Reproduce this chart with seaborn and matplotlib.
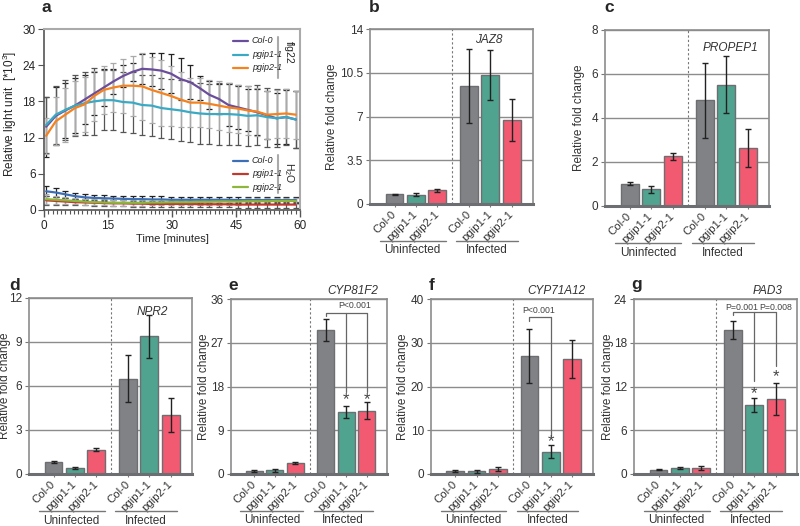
import matplotlib.pyplot as plt
import numpy as np
import pandas as pd
import seaborn as sns
from matplotlib.ticker import FuncFormatter, MultipleLocator

sns.set_style("white")
plt.rcParams["font.family"] = ["Liberation Sans", "DejaVu Sans"]
plt.rcParams["mathtext.fontset"] = "custom"
plt.rcParams["mathtext.rm"] = "Liberation Sans"

# ---- panel a: luminescence after flg22 / water ----
time_min = [0.5, 2.75, 5, 7.25, 9.5, 11.75, 14, 16.25, 18.5, 20.75, 23, 25.25, 27.5,
            29.75, 32, 34.25, 36.5, 38.75, 41, 43.25, 45.5, 47.75, 50, 52.25, 54.5, 56.75, 59]
flg_col0 = [13.8, 15.6, 16.5, 17.3, 18.3, 19.3, 20.3, 21.3, 22.2, 22.9, 23.4, 23.3, 23.1, 22.6,
            21.7, 21.2, 20.2, 19.1, 18.4, 17.4, 17.0, 16.6, 16.2, 15.7, 15.2, 15.4, 15.0]
flg_pgip1 = [14.1, 15.8, 16.6, 17.3, 17.7, 18.0, 18.2, 18.2, 17.9, 17.8, 17.4, 17.3, 16.9, 16.7,
             16.5, 16.2, 16.0, 15.9, 15.9, 15.9, 15.8, 15.6, 15.7, 15.4, 15.2, 15.4, 15.0]
flg_pgip2 = [12.3, 14.7, 15.8, 16.9, 17.5, 18.9, 19.9, 20.3, 20.6, 20.6, 20.5, 19.9, 19.4, 18.9,
             18.3, 17.8, 17.8, 17.6, 17.3, 17.0, 16.8, 16.5, 16.3, 15.8, 15.9, 16.0, 15.8]
flg_col0_sd = [5.0, 4.8, 4.5, 4.5, 4.0, 3.5, 3.0, 2.0, 1.8, 1.5, 2.5, 2.8, 3.0, 3.2,
               3.5, 2.8, 2.0, 2.3, 2.5, 3.5, 3.5, 3.5, 3.8, 4.0, 4.2, 4.5, 4.8]
flg_pgip1_sd = [4.7, 4.8, 5.0, 5.0, 5.2, 5.5, 5.0, 5.0, 5.0, 5.0, 5.0, 5.0, 5.0, 5.0,
                5.0, 5.0, 5.0, 5.0, 5.2, 5.1, 5.0, 5.0, 5.0, 4.9, 4.8, 4.7, 4.8]
flg_pgip2_sd = [3.0, 4.0, 4.5, 4.5, 4.5, 4.2, 4.0, 4.0, 4.5, 5.0, 5.5, 5.5, 5.5, 5.0,
                4.5, 4.0, 4.0, 4.0, 4.0, 4.0, 4.0, 4.0, 4.0, 4.0, 4.0, 4.0, 4.0]
h2o_col0 = [3.1, 2.9, 2.6, 2.3, 2.1, 2.0, 1.95, 1.9, 1.85, 1.8, 1.8, 1.75, 1.75, 1.7,
            1.7, 1.7, 1.7, 1.7, 1.7, 1.7, 1.65, 1.65, 1.65, 1.65, 1.65, 1.65, 1.65]
h2o_pgip1 = [1.6, 1.5, 1.4, 1.3, 1.25, 1.2, 1.15, 1.1, 1.1, 1.05, 1.05, 1.0, 1.0, 1.0,
             1.0, 1.0, 0.95, 0.95, 0.95, 0.95, 0.9, 0.9, 0.9, 0.9, 0.9, 0.9, 0.9]
h2o_pgip2 = [1.8, 1.7, 1.6, 1.5, 1.4, 1.3, 1.25, 1.2, 1.2, 1.2, 1.2, 1.25, 1.25, 1.3,
             1.3, 1.3, 1.35, 1.35, 1.4, 1.4, 1.4, 1.45, 1.45, 1.45, 1.5, 1.5, 1.5]
h2o_sd = [0.8, 0.7, 0.6, 0.5, 0.5, 0.5, 0.5, 0.5, 0.5, 0.5, 0.5, 0.5, 0.5, 0.5,
          0.5, 0.5, 0.5, 0.5, 0.5, 0.5, 0.5, 0.5, 0.5, 0.5, 0.5, 0.5, 0.5]

# ---- panels b-g: qPCR ----
genotypes = ["Col-0", "pgip1-1", "pgip2-1"]
conditions = ["Uninfected", "Infected"]
# order: uninfected Col-0, pgip1-1, pgip2-1, infected Col-0, pgip1-1, pgip2-1
fold_change = {
    "JAZ8": [0.77, 0.75, 1.12, 9.47, 10.32, 6.72],
    "PROPEP1": [1.02, 0.76, 2.26, 4.81, 5.51, 2.63],
    "NPR2": [0.80, 0.41, 1.66, 6.51, 9.38, 4.01],
    "CYP81F2": [0.62, 0.75, 2.26, 29.56, 12.76, 13.03],
    "CYP71A12": [0.69, 0.61, 1.14, 26.97, 5.10, 26.30],
    "PAD3": [0.60, 0.82, 0.82, 19.80, 9.42, 10.33],
}
fold_err = {
    "JAZ8": [0.06, 0.10, 0.12, 2.95, 2.00, 1.70],
    "PROPEP1": [0.05, 0.15, 0.17, 1.70, 1.30, 0.85],
    "NPR2": [0.07, 0.10, 0.12, 1.60, 1.45, 1.15],
    "CYP81F2": [0.15, 0.30, 0.30, 2.25, 1.20, 1.80],
    "CYP71A12": [0.15, 0.35, 0.40, 6.20, 1.45, 4.30],
    "PAD3": [0.10, 0.20, 0.30, 1.25, 0.95, 2.20],
}
y_max = {"JAZ8": 14, "PROPEP1": 8, "NPR2": 12, "CYP81F2": 36, "CYP71A12": 40, "PAD3": 24}
y_step = {"JAZ8": 3.5, "PROPEP1": 2, "NPR2": 3, "CYP81F2": 9, "CYP71A12": 10, "PAD3": 6}

bar_colors = {"Col-0": "#818285", "pgip1-1": "#4fa38f", "pgip2-1": "#f15a71"}
line_colors = {"flg22 Col-0": "#6b4e9b", "flg22 pgip1-1": "#3aa9c3", "flg22 pgip2-1": "#f5821f",
               "H2O Col-0": "#3d6fb6", "H2O pgip1-1": "#c0392f", "H2O pgip2-1": "#8cb63c"}
err_colors = {"flg22 Col-0": "#222222", "flg22 pgip1-1": "#555555", "flg22 pgip2-1": "#aaaaaa",
              "H2O Col-0": "#222222", "H2O pgip1-1": "#555555", "H2O pgip2-1": "#aaaaaa"}

fig = plt.figure(figsize=(8, 5.26), dpi=100)


def px_axes(l, t, r, b):
    return fig.add_axes([l / 800, 1 - b / 526, (r - l) / 800, (b - t) / 526])


# ---------------- panel a ----------------
ax = px_axes(44, 29, 300, 210)
series = {"flg22 Col-0": (flg_col0, flg_col0_sd), "flg22 pgip1-1": (flg_pgip1, flg_pgip1_sd),
          "flg22 pgip2-1": (flg_pgip2, flg_pgip2_sd), "H2O Col-0": (h2o_col0, h2o_sd),
          "H2O pgip1-1": (h2o_pgip1, h2o_sd), "H2O pgip2-1": (h2o_pgip2, h2o_sd)}
rows = []
for name, (vals, sd) in series.items():
    for t, v, s in zip(time_min, vals, sd):
        rows.append({"time": t, "rlu": v, "sd": s, "line": name})
ros = pd.DataFrame(rows)
for name, sub in ros.groupby("line", sort=False):
    ax.errorbar(sub["time"], sub["rlu"], yerr=sub["sd"], fmt="none", ecolor=err_colors[name],
                elinewidth=0.9, capsize=2, capthick=0.9, zorder=1)
sns.lineplot(data=ros, x="time", y="rlu", hue="line", palette=line_colors, lw=1.6,
             legend=False, errorbar=None, ax=ax, zorder=3)
ax.set_xlim(0, 60)
ax.set_ylim(0, 30)
ax.set_xticks(range(0, 61, 15))
ax.set_yticks(range(0, 31, 6))
ax.xaxis.set_minor_locator(MultipleLocator(1))
ax.tick_params(axis="x", which="major", length=5, width=1, color="#555", direction="out",
               labelsize=8.5, bottom=True, pad=2)
ax.tick_params(axis="x", which="minor", length=3, width=0.8, color="#555", direction="out", bottom=True)
ax.tick_params(axis="y", length=4, color="#555", direction="out", labelsize=8.5, left=True, pad=2)
ax.set_xlabel("Time [minutes]", fontsize=8, labelpad=2)
ax.set_ylabel("Relative light unit  [*10$^3$]", fontsize=8.5)
ax.yaxis.set_label_coords(-0.098, 0.53)
for side in ["left", "bottom"]:
    ax.spines[side].set_color("#555555")
    ax.spines[side].set_linewidth(1.2)
for side in ["top", "right"]:
    ax.spines[side].set_color("#aaaaaa")
    ax.spines[side].set_linewidth(1.5)

# hand-made legends
for block, ys, tag, tag_y, bar_y in [
        ("flg22", [0.934, 0.859, 0.785], "flg22", 0.873, (0.729, 0.956)),
        ("H2O", [0.271, 0.199, 0.127], "H$_2$O", 0.204, (0.094, 0.304))]:
    for g, yy in zip(genotypes, ys):
        ax.plot([0.738, 0.797], [yy, yy], color=line_colors[f"{block} {g}"], lw=1.6,
                transform=ax.transAxes)
        ax.text(0.812, yy, g, style="italic", fontsize=6.5, va="center", transform=ax.transAxes)
    ax.plot([0.916, 0.916], bar_y, color="#aaaaaa", lw=1.5, transform=ax.transAxes)
    ax.text(0.955, tag_y, tag, rotation=270, fontsize=7.5, ha="center", va="center",
            transform=ax.transAxes)


# ---------------- bar panels ----------------
def bar_panel(ax, gene, gene_xy, label_x):
    df = pd.DataFrame({
        "genotype": genotypes * 2,
        "condition": [c for c in conditions for _ in genotypes],
        "value": fold_change[gene],
        "err": fold_err[gene],
    })
    df["pos"] = np.arange(len(df)) + 0.5 * (df["condition"] == "Infected")
    sns.barplot(data=df, x="pos", y="value", hue="genotype", palette=bar_colors,
                native_scale=True, dodge=False, width=0.84, saturation=1,
                edgecolor="#6d6e71", linewidth=1.0, errorbar=None, legend=False, ax=ax)
    ax.errorbar(df["pos"], df["value"], yerr=df["err"], fmt="none", ecolor="#222222",
                elinewidth=1, capsize=2.5, capthick=1, zorder=4)
    top = y_max[gene]
    ax.set_ylim(0, top)
    ax.set_xlim(-1.15, 6.5)
    ax.set_yticks(np.arange(0, top + y_step[gene] / 2, y_step[gene]))
    ax.yaxis.set_major_formatter(FuncFormatter(lambda v, p: f"{v:g}"))
    ax.set_axisbelow(True)
    ax.yaxis.grid(True, color="#8c8c8c", lw=1.0)
    ax.xaxis.grid(False)
    ax.axvline(2.72, color="#777777", ls=(0, (2, 2)), lw=0.8)
    ax.set_xticks(df["pos"])
    ax.set_xticklabels(df["genotype"], rotation=45, ha="right", va="center",
                       rotation_mode="anchor", fontsize=8.2, color="#333333")
    ax.tick_params(axis="x", length=2, color="#777", bottom=True, pad=4)
    ax.tick_params(axis="y", length=3, color="#777", left=True, labelsize=8.5,
                   labelcolor="#333333", pad=2)
    ax.set_xlabel("")
    ax.set_ylabel("Relative fold change", fontsize=8.5, color="#333333")
    ax.yaxis.set_label_coords(label_x, 0.5)
    for side in ["left", "top", "right"]:
        ax.spines[side].set_color("#8c8c8c")
        ax.spines[side].set_linewidth(1.2)
    ax.spines["bottom"].set_color("#6d6e71")
    ax.spines["bottom"].set_linewidth(2.2)
    tr = ax.get_xaxis_transform()
    for (x0, x1), label in zip([(-0.7, 2.4), (2.9, 5.8)], conditions):
        ax.plot([x0, x1], [-0.21, -0.21], color="#777777", lw=1.0, transform=tr, clip_on=False)
        ax.text((x0 + x1) / 2, -0.265, label, fontsize=8.5, color="#333333", ha="center",
                va="center", transform=tr)
    ax.text(gene_xy[0], gene_xy[1], gene, style="italic", fontsize=8.5, color="#333333",
            ha="center", va="center", transform=tr)
    return df


def bracket(ax, x0, x1, y, drops, text, text_x, text_y):
    ax.plot([x0, x0, x1], [y - drops[0], y, y], color="#666666", lw=0.9, clip_on=False)
    for xx, yb in drops[1:]:
        ax.plot([xx, xx], [y, yb], color="#666666", lw=0.9)
    if text:
        ax.text(text_x, text_y, text, fontsize=6.3, color="#444444", ha="center", va="center")


def star(ax, x, y):
    ax.text(x, y, "*", fontsize=12, color="#444444", ha="center", va="center")


ax_b = px_axes(370, 29, 533, 204)
bar_panel(ax_b, "JAZ8", (4.4, 0.937), -0.196)
ax_c = px_axes(605, 30, 769, 206)
bar_panel(ax_c, "PROPEP1", (4.7, 0.90), -0.122)
ax_d = px_axes(29, 298, 192, 474)
bar_panel(ax_d, "NPR2", (4.63, 0.922), -0.11)
ax_e = px_axes(231, 299, 387, 474)
bar_panel(ax_e, "CYP81F2", (4.82, 1.046), -0.135)
ax_f = px_axes(431, 299, 593, 474)
bar_panel(ax_f, "CYP71A12", (4.79, 1.046), -0.136)
ax_g = px_axes(634, 299, 797, 474)
bar_panel(ax_g, "PAD3", (5.11, 1.046), -0.123)

bracket(ax_e, 3.5, 5.5, 33.1, [0.6, (4.5, 16.9), (5.5, 16.9)], "P<0.001", 4.9, 34.6)
star(ax_e, 4.5, 15.3)
star(ax_e, 5.5, 15.3)
bracket(ax_f, 3.5, 4.5, 35.8, [0.8, (4.5, 8.8)], "P<0.001", 3.93, 37.3)
star(ax_f, 4.5, 7.4)
bracket(ax_g, 3.5, 5.5, 22.2, [0.4, (4.5, 12.7), (5.5, 14.8)], "", 0, 0)
ax_g.text(3.9, 22.9, "P=0.001", fontsize=6.3, color="#444444", ha="center", va="center")
ax_g.text(5.5, 22.9, "P=0.008", fontsize=6.3, color="#444444", ha="center", va="center")
star(ax_g, 4.5, 11.0)
star(ax_g, 5.5, 13.4)

for letter, (x, y) in {"a": (46, 8), "b": (374, 8), "c": (609, 8), "d": (15, 285),
                       "e": (233, 285), "f": (432, 285), "g": (637, 285)}.items():
    fig.text(x / 800, 1 - y / 526, letter, fontsize=12.5, fontweight="bold",
             ha="center", va="center")

fig.savefig("out.png", dpi=100)
